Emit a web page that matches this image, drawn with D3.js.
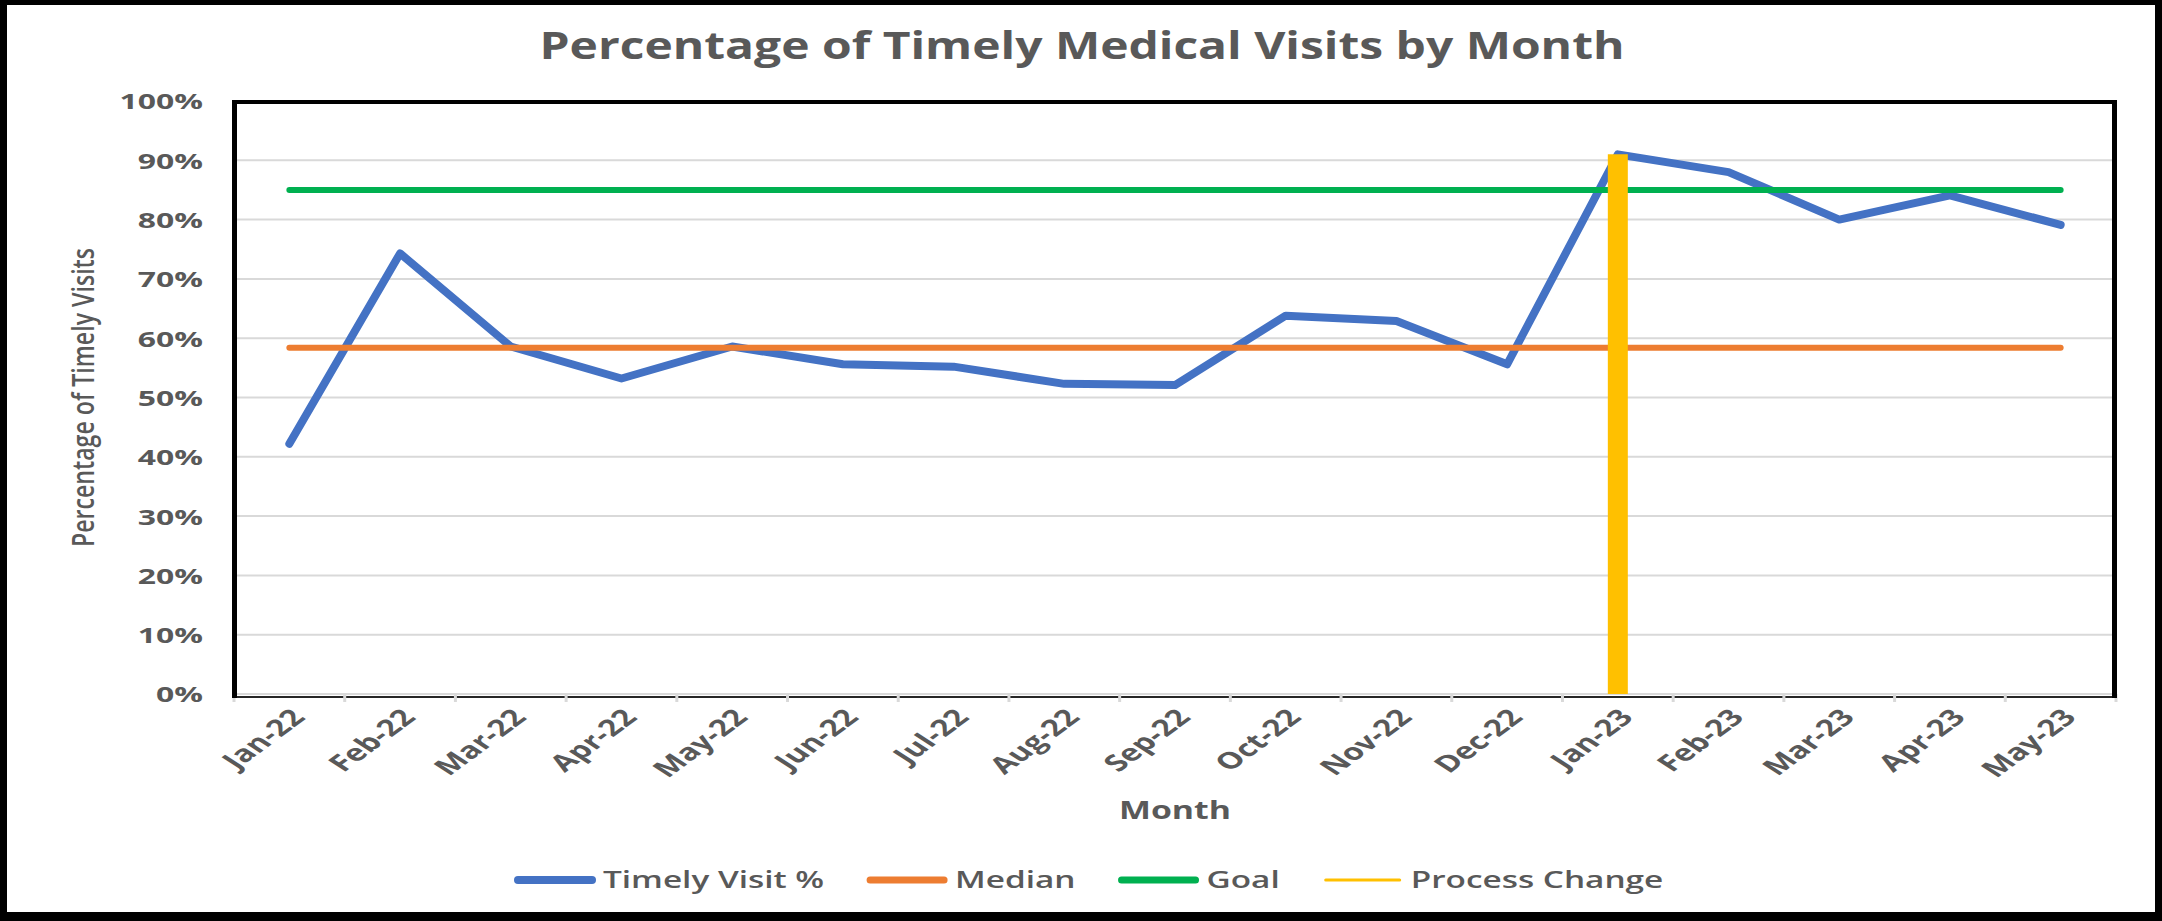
<!DOCTYPE html>
<html>
<head>
<meta charset="utf-8">
<script src="https://cdn.jsdelivr.net/npm/d3@7"></script>
<style>
    html, body { margin: 0; padding: 0; background: #000; }
    svg { display: block; }
</style>
</head>
<body>
<svg id="chart" width="2162" height="921"></svg>
<script>
// month categories
const months = ['Jan-22', 'Feb-22', 'Mar-22', 'Apr-22', 'May-22', 'Jun-22', 'Jul-22', 'Aug-22', 'Sep-22',
    'Oct-22', 'Nov-22', 'Dec-22', 'Jan-23', 'Feb-23', 'Mar-23', 'Apr-23', 'May-23'];

// timely visit % per month
const timelyVisitPct = [42.2, 74.3, 58.6, 53.2, 58.6, 55.6, 55.2, 52.3, 52.1, 63.8, 62.9, 55.6, 91.0, 88.0, 80.0, 84.1, 79.1];

// reference lines
const medianPct = 58.4;
const goalPct = 85;

// process change marker (vertical line at Jan-23)
const processChangeMonth = ['Jan-23', 'Jan-23'];
const processChangePct = [0, 91.0];

// axis ticks
const yTickValues = [0, 10, 20, 30, 40, 50, 60, 70, 80, 90, 100];

const legendLabels = ['Timely Visit %', 'Median', 'Goal', 'Process Change'];

class TimelyVisitChart {

    constructor({svg, plot = [101, 2116, 694, 234]}) {
        this.svg = d3.select(svg);
        // plot area edges: top, right, bottom, left
        this.plot = {top: plot[0], right: plot[1], bottom: plot[2], left: plot[3]};
        // the source image is stretched horizontally
        this.stretch = 1.45;
        this.textColor = '#595959';
        this.gridColor = '#d9d9d9';
        this.font = '"Open Sans", "Noto Sans", sans-serif';
    }

    create() {
        this._drawFrame();

        this.scaleX = d3.scalePoint().domain(months).range([this.plot.left, this.plot.right]).padding(0.5);
        this.bandX = d3.scaleBand().domain(months).range([this.plot.left, this.plot.right]);
        this.scaleY = d3.scaleLinear().domain([0, 100]).range([this.plot.bottom, this.plot.top]);

        this._drawGrid();
        this._drawAxisX();
        this._drawAxisY();
        this._drawSeries();
        this._drawBorder();
        this._drawTitles();
        this._drawLegend();
    }

    // outer black frame + white card
    _drawFrame() {
        this.svg.append('rect').attr('width', 2162).attr('height', 921).attr('fill', '#000');
        this.svg.append('rect').attr('x', 7).attr('y', 5).attr('width', 2148).attr('height', 907).attr('fill', '#fff');
    }

    _drawGrid() {
        this.svg.append('g')
            .selectAll('line')
            .data(yTickValues.filter(d => d > 0 && d < 100))
            .join('line')
            .attr('x1', this.plot.left).attr('x2', this.plot.right)
            .attr('y1', d => this.scaleY(d)).attr('y2', d => this.scaleY(d))
            .attr('stroke', this.gridColor).attr('stroke-width', 2);
    }

    _drawAxisX() {
        const g = this.svg.append('g');
        const bottom = this.plot.bottom;

        // light base line and dark line under it
        g.append('line')
            .attr('x1', this.plot.left).attr('x2', this.plot.right)
            .attr('y1', bottom).attr('y2', bottom)
            .attr('stroke', this.gridColor).attr('stroke-width', 2);
        g.append('line')
            .attr('x1', this.plot.left).attr('x2', this.plot.right)
            .attr('y1', bottom + 3).attr('y2', bottom + 3)
            .attr('stroke', '#262626').attr('stroke-width', 2);

        // tick marks between categories
        const edges = months.map(m => this.bandX(m)).concat([this.plot.right]);
        g.selectAll('.tick-mark')
            .data(edges)
            .join('line')
            .attr('class', 'tick-mark')
            .attr('x1', d => d).attr('x2', d => d)
            .attr('y1', bottom).attr('y2', bottom + 8)
            .attr('stroke', this.gridColor).attr('stroke-width', 3);

        // rotated labels
        const axis = d3.axisBottom(this.scaleX).tickSize(0);
        const axisG = this.svg.append('g').attr('transform', `translate(0,${bottom})`).call(axis);
        axisG.select('.domain').remove();
        axisG.selectAll('text')
            .attr('x', null).attr('y', null).attr('dy', '0.35em')
            .attr('text-anchor', 'end')
            .attr('transform', `translate(8,19) scale(${this.stretch},1) rotate(-47)`)
            .attr('fill', this.textColor)
            .style('font', `bold 23px ${this.font}`);
    }

    _drawAxisY() {
        const axis = d3.axisLeft(this.scaleY).tickValues(yTickValues).tickSize(0).tickFormat(d => d + '%');
        const axisG = this.svg.append('g').attr('transform', `translate(${this.plot.left},0)`).call(axis);
        axisG.select('.domain').remove();
        axisG.selectAll('text')
            .attr('x', null).attr('dy', '0.36em')
            .attr('text-anchor', 'end')
            .attr('transform', `translate(-31,0) scale(${this.stretch},1)`)
            .attr('fill', this.textColor)
            .style('font', `bold 22px ${this.font}`);
    }

    _drawSeries() {
        const line = d3.line().x(d => this.scaleX(d.month)).y(d => this.scaleY(d.value));
        const g = this.svg.append('g').attr('fill', 'none');

        const timely = months.map((m, i) => ({month: m, value: timelyVisitPct[i]}));
        const median = months.map(m => ({month: m, value: medianPct}));
        const goal = months.map(m => ({month: m, value: goalPct}));
        const process = processChangeMonth.map((m, i) => ({month: m, value: processChangePct[i]}));

        g.append('path').datum(timely).attr('d', line)
            .attr('stroke', '#4472c4').attr('stroke-width', 8)
            .attr('stroke-linecap', 'round').attr('stroke-linejoin', 'round');
        g.append('path').datum(median).attr('d', line)
            .attr('stroke', '#ed7d31').attr('stroke-width', 6).attr('stroke-linecap', 'round');
        g.append('path').datum(goal).attr('d', line)
            .attr('stroke', '#00b050').attr('stroke-width', 6).attr('stroke-linecap', 'round');
        g.append('path').datum(process).attr('d', line)
            .attr('stroke', '#ffc000').attr('stroke-width', 20).attr('stroke-linecap', 'butt');
    }

    // black plot border on top, left and right
    _drawBorder() {
        const p = this.plot;
        const g = this.svg.append('g').attr('stroke', '#000');
        g.append('line').attr('x1', p.left - 2).attr('x2', p.right + 1).attr('y1', p.top + 1).attr('y2', p.top + 1).attr('stroke-width', 4);
        g.append('line').attr('x1', p.left + 0.5).attr('x2', p.left + 0.5).attr('y1', p.top - 1).attr('y2', p.bottom + 4).attr('stroke-width', 5);
        g.append('line').attr('x1', p.right - 1.5).attr('x2', p.right - 1.5).attr('y1', p.top - 1).attr('y2', p.bottom + 4).attr('stroke-width', 5);
    }

    _drawTitles() {
        this.svg.append('text')
            .attr('x', 1082).attr('y', 59)
            .attr('text-anchor', 'middle')
            .attr('textLength', 1085).attr('lengthAdjust', 'spacingAndGlyphs')
            .attr('fill', this.textColor)
            .style('font', `bold 38px ${this.font}`)
            .text('Percentage of Timely Medical Visits by Month');

        this.svg.append('text')
            .attr('x', (this.plot.left + this.plot.right) / 2).attr('y', 819)
            .attr('text-anchor', 'middle')
            .attr('textLength', 112).attr('lengthAdjust', 'spacingAndGlyphs')
            .attr('fill', this.textColor)
            .style('font', `bold 25px ${this.font}`)
            .text('Month');

        this.svg.append('text')
            .attr('transform', `translate(83,${(this.plot.top + this.plot.bottom) / 2}) scale(${this.stretch},1) rotate(-90)`)
            .attr('text-anchor', 'middle').attr('dy', '0.35em')
            .attr('textLength', 299).attr('lengthAdjust', 'spacingAndGlyphs')
            .attr('fill', this.textColor)
            .style('font', `600 21px ${this.font}`)
            .text('Percentage of Timely Visits');
    }

    _drawLegend() {
        const styles = [
            {color: '#4472c4', width: 8},
            {color: '#ed7d31', width: 7},
            {color: '#00b050', width: 7},
            {color: '#ffc000', width: 3}
        ];
        const y = 880;
        let x = 514;
        const g = this.svg.append('g');

        legendLabels.forEach((label, i) => {
            g.append('line')
                .attr('x1', x + 4).attr('x2', x + 78)
                .attr('y1', y).attr('y2', y)
                .attr('stroke', styles[i].color).attr('stroke-width', styles[i].width)
                .attr('stroke-linecap', 'round');
            const t = g.append('text')
                .attr('transform', `translate(${x + 89},${y}) scale(${this.stretch},1)`)
                .attr('dy', '0.35em')
                .attr('fill', this.textColor)
                .style('font', `600 23px ${this.font}`)
                .text(label);
            x += 89 + t.node().getComputedTextLength() * this.stretch + 42;
        });
    }
}

new TimelyVisitChart({svg: document.getElementById('chart')}).create();
</script>
</body>
</html>
